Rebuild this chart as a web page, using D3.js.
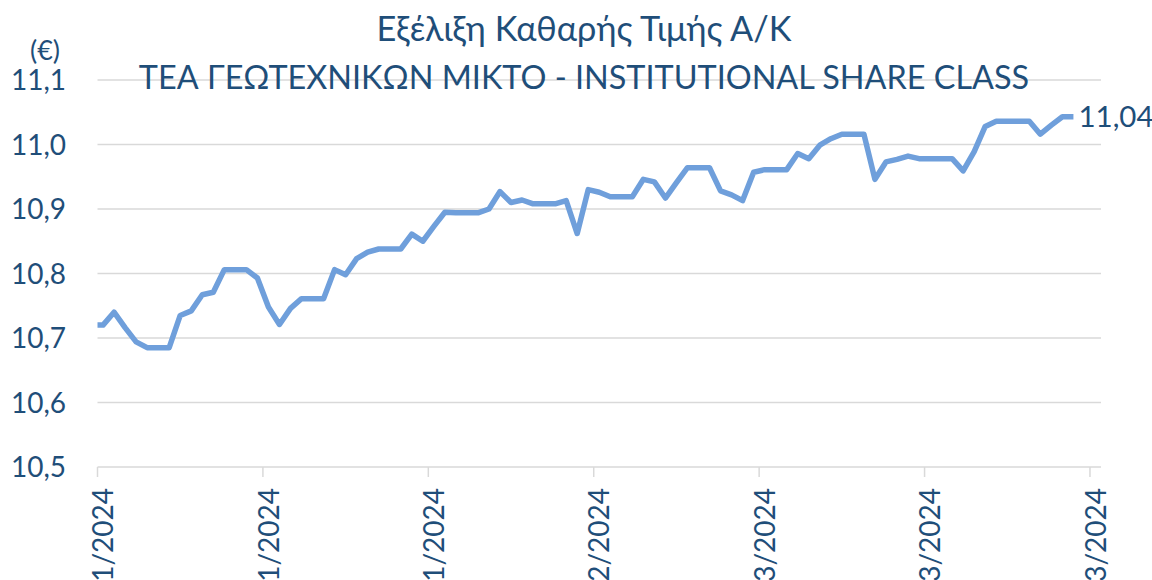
<!DOCTYPE html>
<html>
<head>
<meta charset="utf-8">
<script src="https://cdn.jsdelivr.net/npm/d3@7"></script>
<style>
  body { margin: 0; background: #fff; }
  text { font-family: Lato, "Noto Sans", sans-serif; fill: #1F4E79; }
</style>
</head>
<body>
<div id="vis"></div>
<script>
// NAV values, one per calendar day from 31/12/2023 to 29/03/2024
const navValues = [
  10.72,
  10.72, 10.74, 10.716, 10.694, 10.685, 10.685, 10.685,
  10.735, 10.742, 10.767, 10.771, 10.806, 10.806, 10.806,
  10.793, 10.748, 10.721, 10.746, 10.761, 10.761, 10.761,
  10.806, 10.798, 10.823, 10.833, 10.838, 10.838, 10.838,
  10.861, 10.850, 10.873, 10.895, 10.894, 10.894, 10.894,
  10.900, 10.927, 10.910, 10.914, 10.908, 10.908, 10.908,
  10.913, 10.862, 10.930, 10.926, 10.919, 10.919, 10.919,
  10.946, 10.942, 10.917, 10.941, 10.964, 10.964, 10.964,
  10.928, 10.922, 10.913, 10.957, 10.961, 10.961, 10.961,
  10.986, 10.978, 10.999, 11.009, 11.016, 11.016, 11.016,
  10.946, 10.973, 10.977, 10.982, 10.978, 10.978, 10.978,
  10.978, 10.959, 10.989, 11.028, 11.036, 11.036, 11.036,
  11.036, 11.016, 11.030, 11.043, 11.043
];
const navDates = d3.utcDay.range(new Date(Date.UTC(2023, 11, 31)), new Date(Date.UTC(2024, 2, 30)));

const yTicks = [10.5, 10.6, 10.7, 10.8, 10.9, 11.0, 11.1];
const xTicks = ['2024-01-01', '2024-01-16', '2024-01-31', '2024-02-15', '2024-03-01', '2024-03-16', '2024-03-31'];
const titleLines = ['Εξέλιξη Καθαρής Τιμής Α/Κ', 'ΤΕΑ ΓΕΩΤΕΧΝΙΚΩΝ ΜΙΚΤΟ - INSTITUTIONAL SHARE CLASS'];
const unitLabel = '(€)';

const data = navDates.map((d, i) => ({ date: d, value: navValues[i] }));

const grLocale = d3.formatLocale({ decimal: ',', thousands: '.', grouping: [3], currency: ['', '€'] });
const fmtAxis = grLocale.format('.1f');
const fmtLast = grLocale.format('.2f');
const fmtDate = d3.utcFormat('%d/%m/%Y');

const width = 1152, height = 580;
const plot = { left: 97.5, right: 1101, top: 80, bottom: 467 };

const svg = d3.select('#vis')
  .append('svg')
  .attr('width', width)
  .attr('height', height);

const x = d3.scaleUtc()
  .domain([new Date(Date.UTC(2024, 0, 1)), new Date(Date.UTC(2024, 3, 1))])
  .range([plot.left, plot.right]);

const y = d3.scaleLinear()
  .domain([10.5, 11.1])
  .range([plot.bottom, plot.top]);

// points sit in the middle of each day slot
const mid = d => d3.utcHour.offset(d, 12);

// gridlines
svg.append('g')
  .selectAll('line')
  .data(yTicks)
  .enter()
  .append('line')
  .attr('x1', plot.left)
  .attr('x2', plot.right)
  .attr('y1', d => y(d))
  .attr('y2', d => y(d))
  .attr('stroke', '#D9D9D9')
  .attr('stroke-width', 1.5);

// y labels
svg.append('g')
  .selectAll('text')
  .data(yTicks)
  .enter()
  .append('text')
  .attr('x', 66)
  .attr('y', d => y(d))
  .attr('dy', '0.36em')
  .attr('text-anchor', 'end')
  .style('font-size', '28px')
  .text(d => fmtAxis(d));

svg.append('text')
  .attr('x', 45)
  .attr('y', 60)
  .attr('text-anchor', 'middle')
  .style('font-size', '27px')
  .text(unitLabel);

// x axis tick marks and labels
const xAxis = svg.append('g');
xAxis.selectAll('line')
  .data(xTicks)
  .enter()
  .append('line')
  .attr('x1', d => x(new Date(d)))
  .attr('x2', d => x(new Date(d)))
  .attr('y1', plot.bottom)
  .attr('y2', plot.bottom + 10)
  .attr('stroke', '#D9D9D9')
  .attr('stroke-width', 1.5);

xAxis.selectAll('text')
  .data(xTicks)
  .enter()
  .append('text')
  .attr('transform', d => 'translate(' + x(mid(new Date(d))) + ',' + (plot.bottom + 21) + ') rotate(-90)')
  .attr('dy', '0.36em')
  .attr('text-anchor', 'end')
  .style('font-size', '28px')
  .text(d => fmtDate(new Date(d)));

// line, clipped to the plot area
svg.append('clipPath')
  .attr('id', 'plot-clip')
  .append('rect')
  .attr('x', plot.left)
  .attr('y', 0)
  .attr('width', plot.right - plot.left)
  .attr('height', height);

const line = d3.line()
  .x(d => x(mid(d.date)))
  .y(d => y(d.value));

svg.append('path')
  .datum(data)
  .attr('clip-path', 'url(#plot-clip)')
  .attr('d', line)
  .attr('fill', 'none')
  .attr('stroke', '#6F9FDB')
  .attr('stroke-width', 5.5)
  .attr('stroke-linejoin', 'round');

// value label on the last point
const last = data[data.length - 1];
svg.append('text')
  .attr('x', x(mid(last.date)) + 5)
  .attr('y', y(last.value))
  .attr('dy', '0.36em')
  .style('font-size', '29.5px')
  .text(fmtLast(last.value));

// title
svg.append('g')
  .selectAll('text')
  .data(titleLines)
  .enter()
  .append('text')
  .attr('x', 584)
  .attr('y', (d, i) => 41 + i * 48)
  .attr('text-anchor', 'middle')
  .style('font-size', (d, i) => i === 0 ? '34.3px' : '32.4px')
  .text(d => d);
</script>
</body>
</html>
